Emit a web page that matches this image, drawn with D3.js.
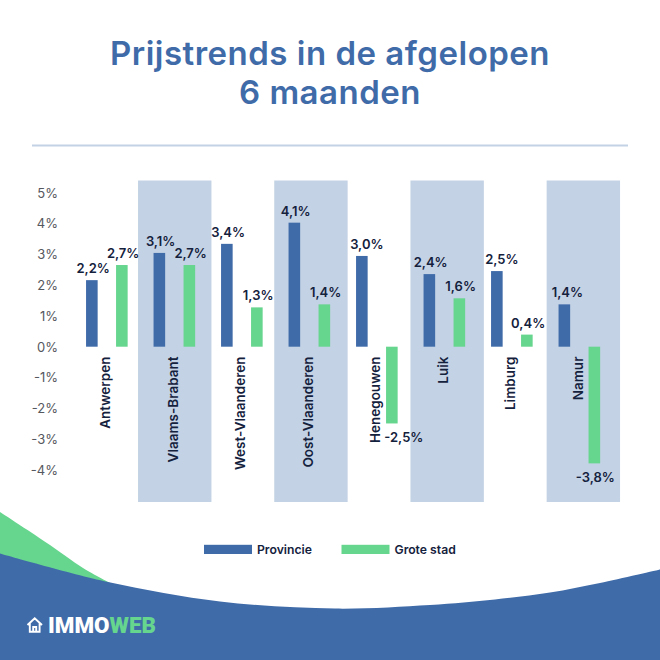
<!DOCTYPE html>
<html>
<head>
<meta charset="utf-8">
<script src="https://cdn.jsdelivr.net/npm/d3@7"></script>
<style>
  html, body { margin: 0; padding: 0; background: #fff; }
  svg { display: block; }
  text { font-family: "Inter", "Noto Sans", sans-serif; }
</style>
</head>
<body>
<div id="chart"></div>
<script>
const provinces = ["Antwerpen", "Vlaams-Brabant", "West-Vlaanderen", "Oost-Vlaanderen", "Henegouwen", "Luik", "Limburg", "Namur"];
const provincie = [2.2, 3.1, 3.4, 4.1, 3.0, 2.4, 2.5, 1.4];
const groteStad = [2.7, 2.7, 1.3, 1.4, -2.5, 1.6, 0.4, -3.8];
const yTicks = [5, 4, 3, 2, 1, 0, -1, -2, -3, -4];
const seriesNames = ["Provincie", "Grote stad"];
const striped = ["Vlaams-Brabant", "Oost-Vlaanderen", "Luik", "Namur"];

const blue = "#3f6ba9", green = "#66d58e", stripe = "#c3d2e4", ink = "#14213d";

const svg = d3.select("#chart").append("svg").attr("width", 660).attr("height", 660);

// title
const title = svg.append("text")
    .attr("text-anchor", "middle")
    .style("font-size", "33px")
    .style("font-weight", 600)
    .style("letter-spacing", "0.5px")
    .style("fill", blue);
title.append("tspan").attr("x", 330).attr("y", 65).text("Prijstrends in de afgelopen");
title.append("tspan").attr("x", 330).attr("y", 104).text("6 maanden");

svg.append("line")
    .attr("x1", 32).attr("x2", 628).attr("y1", 145.5).attr("y2", 145.5)
    .style("stroke", "#c3d2e4").style("stroke-width", 2);

// scales. the tick labels are spaced a bit wider than the bars in the original
const x = d3.scaleBand().domain(provinces).range([72.9, 612.9]);
const xStripe = d3.scaleBand().domain(provinces).range([72.6, 617.4]);
const yAxisScale = d3.scaleLinear().domain([5, -4]).range([193, 470]);
const y = d3.scaleLinear().domain([4, 0, -4]).range([225.7, 346.7, 469.5]);
const barW = 11.6;
const blueX = d => x(d) + x.bandwidth() / 2 - 20.6;
const greenX = d => x(d) + x.bandwidth() / 2 + 9.4;

// labels that sit off-centre over their bar
const labelShift = { Henegouwen: 5, Limburg: 5, Namur: 3 };

svg.selectAll(".stripe")
    .data(striped)
    .enter().append("rect")
    .attr("class", "stripe")
    .attr("x", d => xStripe(d) + xStripe.bandwidth() / 2 - 36.7)
    .attr("width", 73.4)
    .attr("y", 180.5)
    .attr("height", 321.5)
    .style("fill", stripe);

// y axis, text only
const yAxis = svg.append("g")
    .attr("transform", "translate(58,0)")
    .call(d3.axisLeft(yAxisScale).tickValues(yTicks).tickSize(0).tickPadding(0).tickFormat(d => d + "%"));
yAxis.select(".domain").remove();
yAxis.selectAll("text")
    .style("font-family", "Inter, sans-serif")
    .style("font-size", "13px")
    .style("fill", "#55585e");

function drawBars(values, xPos, color) {
    svg.selectAll(".bar" + color.slice(1))
        .data(provinces)
        .enter().append("rect")
        .attr("class", "bar" + color.slice(1))
        .attr("x", d => xPos(d))
        .attr("width", barW)
        .attr("y", (d, i) => y(Math.max(values[i], 0)))
        .attr("height", (d, i) => Math.abs(y(values[i]) - y(0)))
        .style("fill", color);

    svg.selectAll(".lab" + color.slice(1))
        .data(provinces)
        .enter().append("text")
        .attr("class", "lab" + color.slice(1))
        .attr("x", (d, i) => {
            let shift = 1.3;
            if (values[i] < 0) shift = d === "Henegouwen" ? 12 : 1;
            else if (color === blue && labelShift[d]) shift = labelShift[d];
            return xPos(d) + barW / 2 + shift;
        })
        .attr("y", (d, i) => values[i] < 0 ? y(values[i]) + 19 : y(values[i]) - 7)
        .attr("text-anchor", "middle")
        .style("font-size", "13px")
        .style("font-weight", 600)
        .style("fill", ink)
        .text((d, i) => String(values[i].toFixed(1)).replace(".", ",") + "%");
}
drawBars(provincie, blueX, blue);
drawBars(groteStad, greenX, green);

// province names run upward from just under the zero line
svg.selectAll(".prov")
    .data(provinces)
    .enter().append("text")
    .attr("class", "prov")
    .attr("transform", d => `translate(${x(d) + x.bandwidth() / 2 + 3.8},356.5) rotate(-90)`)
    .attr("text-anchor", "end")
    .style("font-size", "13.5px")
    .style("font-weight", 600)
    .style("fill", ink)
    .text(d => d);

// legend
const legendX = d3.scaleOrdinal().domain(seriesNames).range([204, 341.5]);
const legendColor = d3.scaleOrdinal().domain(seriesNames).range([blue, green]);
const legend = svg.selectAll(".legend").data(seriesNames).enter().append("g")
    .attr("class", "legend")
    .attr("transform", d => `translate(${legendX(d)},544.8)`);
legend.append("rect").attr("width", 48).attr("height", 9.2).style("fill", d => legendColor(d));
legend.append("text").attr("x", 53).attr("y", 9.2)
    .style("font-size", "12.2px").style("font-weight", 600).style("fill", ink).text(d => d);

// footer shapes
const greenEdge = [[0, 512], [50, 545], [83, 568], [112, 584]];
const blueEdge = [[0, 553.5], [108, 582], [220, 601.5], [335, 608.6], [430, 605], [495, 599.5], [550, 592.5], [600, 583], [660, 569.5]];

const greenArea = d3.area().x(d => d[0]).y0(590).y1(d => d[1]).curve(d3.curveCatmullRom);
const blueArea = d3.area().x(d => d[0]).y0(660).y1(d => d[1]).curve(d3.curveCatmullRom);
svg.append("path").datum(greenEdge).attr("d", greenArea).style("fill", green);
svg.append("path").datum(blueEdge).attr("d", blueArea).style("fill", blue);

// logo
const logo = svg.append("g").attr("transform", "translate(27,617)");
logo.append("path")
    .attr("d", "M0.5 8 L7.7 1.2 L15 8 M2.8 6.5 V14.8 H12.6 V6.5 M6.2 14.8 V10 H9.2 V14.8")
    .style("fill", "none").style("stroke", "#fff").style("stroke-width", 1.9);
const logoText = logo.append("text")
    .attr("x", 21).attr("y", 15.7)
    .style("font-family", "Roboto, sans-serif")
    .style("font-size", "22.4px")
    .style("font-weight", 900);
logoText.append("tspan").style("fill", "#fff").text("IMMO");
logoText.append("tspan").style("fill", green).text("WEB");
</script>
</body>
</html>
